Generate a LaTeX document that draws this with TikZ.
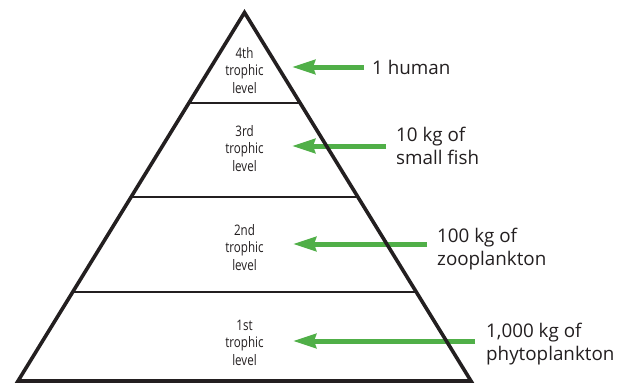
\documentclass[tikz,border=0pt]{standalone}
\usepackage{fontspec}
\setmainfont{Open Sans}
\newfontfamily\condfont[FakeStretch=0.8]{Open Sans}
\usetikzlibrary{arrows.meta}
\definecolor{ink}{HTML}{231F20}
\definecolor{arrgreen}{RGB}{80,175,72}
\tikzset{
  outline/.style={draw=ink, line width=3.6pt, line join=miter},
  divider/.style={draw=ink, line width=2.2pt},
  levellabel/.style={font=\condfont\fontsize{14.5pt}{17.5pt}\selectfont, text=ink, align=center, inner sep=0pt, anchor=base},
  amount/.style={font=\fontsize{18.8pt}{23pt}\selectfont, text=ink, align=left, inner sep=0pt, anchor=base west},
  greenarrow/.style={draw=arrgreen, line width=5pt, -{Stealth[length=23pt, width=14pt, inset=2pt]}}
}
\begin{document}
\begin{tikzpicture}[x=1pt, y=-1pt]
  \useasboundingbox (0,0) rectangle (625,384);
  \fill[white] (0,0) rectangle (625,384);
  % triangle corners
  \coordinate (apex) at (244.5,12.5);
  \coordinate (bl) at (18,381);
  \coordinate (br) at (471,381);
  % dividers (x = 244.5 +- 0.6147*(y-12.5))
  \coordinate (d1l) at (188.9,103);
  \coordinate (d1r) at (300.1,103);
  \coordinate (d2l) at (131.1,197);
  \coordinate (d2r) at (357.9,197);
  \coordinate (d3l) at (72.7,292);
  \coordinate (d3r) at (416.3,292);
  \draw[divider] (d1l) -- (d1r);
  \draw[divider] (d2l) -- (d2r);
  \draw[divider] (d3l) -- (d3r);
  % level labels (anchor = baseline of last line)
  \node[levellabel] (l4) at (244.5,93) {4th\\trophic\\level};
  \node[levellabel] (l3) at (244.5,171) {3rd\\trophic\\level};
  \node[levellabel] (l2) at (244.5,270) {2nd\\trophic\\level};
  \node[levellabel] (l1) at (244.5,365) {1st\\trophic\\level};
  % amounts (anchor = baseline of last line)
  \node[amount] (q4) at (372,74) {1 human};
  \node[amount] (q3) at (396,164) {10 kg of\\small fish};
  \node[amount] (q2) at (437,265) {100 kg of\\zooplankton};
  \node[amount] (q1) at (486,360) {1,000 kg of\\phytoplankton};
  % arrows
  \coordinate (s4) at (364,67);  \coordinate (t4) at (292,67);
  \coordinate (s3) at (386,146); \coordinate (t3) at (292,146);
  \coordinate (s2) at (427,244); \coordinate (t2) at (293,244);
  \coordinate (s1) at (475,341); \coordinate (t1) at (293,341);
  \draw[greenarrow] (s4) -- (t4);
  \draw[greenarrow] (s3) -- (t3);
  \draw[greenarrow] (s2) -- (t2);
  \draw[greenarrow] (s1) -- (t1);
  % outline
  \draw[outline] (apex) -- (br) -- (bl) -- cycle;
\end{tikzpicture}
\end{document}
